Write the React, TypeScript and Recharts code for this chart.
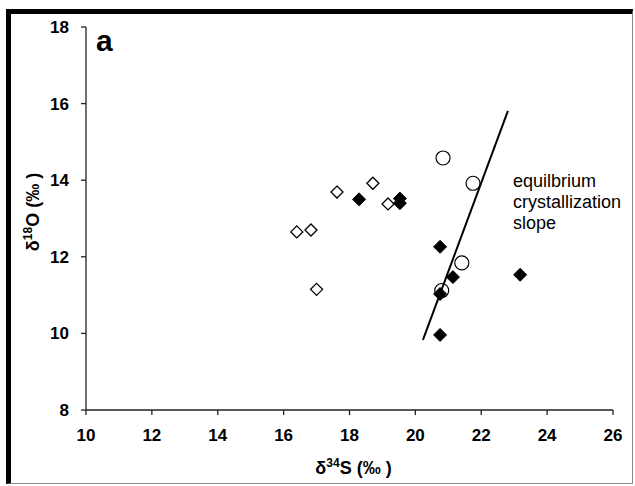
import React from 'react'
import { ScatterChart, Scatter, XAxis, YAxis } from 'recharts'

type Pt = { x: number; y: number }

// δ34S vs δ18O readings
const openDiamonds: Pt[] = [
    { x: 16.4, y: 12.65 },
    { x: 16.83, y: 12.7 },
    { x: 17.0, y: 11.15 },
    { x: 17.62, y: 13.69 },
    { x: 18.71, y: 13.92 },
    { x: 19.17, y: 13.38 }
]

const filledDiamonds: Pt[] = [
    { x: 18.29, y: 13.5 },
    { x: 19.53, y: 13.52 },
    { x: 19.53, y: 13.4 },
    { x: 20.75, y: 12.26 },
    { x: 20.75, y: 11.03 },
    { x: 21.14, y: 11.47 },
    { x: 20.75, y: 9.96 },
    { x: 23.18, y: 11.53 }
]

const openCircles: Pt[] = [
    { x: 20.84, y: 14.58 },
    { x: 21.75, y: 13.92 },
    { x: 21.41, y: 11.84 },
    { x: 20.8, y: 11.12 }
]

const slopeLine: Pt[] = [
    { x: 20.23, y: 9.83 },
    { x: 22.81, y: 15.81 }
]

const xTicks = [10, 12, 14, 16, 18, 20, 22, 24, 26]
const yTicks = [8, 10, 12, 14, 16, 18]

const FONT = '"Liberation Sans", Arial, sans-serif'

const OpenDiamond = (props: any) => {
    const { cx, cy } = props
    const r = 6
    return <path d={`M${cx},${cy - r}L${cx + r},${cy}L${cx},${cy + r}L${cx - r},${cy}Z`} fill="#fff" stroke="#000" strokeWidth={1.3} />
}

const FilledDiamond = (props: any) => {
    const { cx, cy } = props
    const r = 6.5
    return <path d={`M${cx},${cy - r}L${cx + r},${cy}L${cx},${cy + r}L${cx - r},${cy}Z`} fill="#000" stroke="#000" />
}

const OpenCircle = (props: any) => {
    const { cx, cy } = props
    return <circle cx={cx} cy={cy} r={7} fill="none" stroke="#000" strokeWidth={1.2} />
}

const NoDot = () => <g />

const XLabel = (props: any) => {
    const { viewBox } = props
    const cx = viewBox.x + viewBox.width / 2 + 4
    return (
        <text x={cx} y={474} textAnchor="middle" fontFamily={FONT} fontWeight="bold" fontSize={18} fill="#000">
            δ<tspan fontSize={12} dy={-7}>34</tspan><tspan dy={7}>S (‰ )</tspan>
        </text>
    )
}

const YLabel = () => (
    <text x={0} y={0} transform="translate(39,212) rotate(-90)" textAnchor="middle" fontFamily={FONT} fontWeight="bold" fontSize={18} fill="#000">
        δ<tspan fontSize={12} dy={-7}>18</tspan><tspan dy={7}>O (‰ )</tspan>
    </text>
)

export default function App() {
    return (
        <div style={{ position: 'absolute', left: 0, top: 0, width: 635, height: 486, background: '#fff' }}>
            <div style={{ position: 'absolute', left: 6, top: 9, width: 627, height: 475, borderLeft: '5px solid #000', borderTop: '5px solid #000', borderRight: '1px solid #888', borderBottom: '1px solid #888', boxSizing: 'border-box' }} />
            <ScatterChart
                width={635}
                height={486}
                margin={{ top: 27, right: 22, left: 26, bottom: 10 }}
                style={{ position: 'absolute', left: 0, top: 0 }}
            >
                <XAxis
                    type="number"
                    dataKey="x"
                    domain={[10, 26]}
                    ticks={xTicks}
                    height={66}
                    tickSize={5}
                    tickMargin={14}
                    stroke="#222"
                    strokeWidth={1.3}
                    tick={{ fill: '#000', fontSize: 17, fontWeight: 'bold', fontFamily: FONT }}
                    label={<XLabel />}
                />
                <YAxis
                    type="number"
                    dataKey="y"
                    domain={[8, 18]}
                    ticks={yTicks}
                    width={60}
                    tickSize={5}
                    tickMargin={12}
                    stroke="#222"
                    strokeWidth={1.3}
                    tick={{ fill: '#000', fontSize: 17, fontWeight: 'bold', fontFamily: FONT }}
                    label={<YLabel />}
                />
                <Scatter data={slopeLine} line={{ stroke: '#000', strokeWidth: 2 }} shape={<NoDot />} isAnimationActive={false} />
                <Scatter data={openDiamonds} shape={<OpenDiamond />} isAnimationActive={false} />
                <Scatter data={filledDiamonds} shape={<FilledDiamond />} isAnimationActive={false} />
                <Scatter data={openCircles} shape={<OpenCircle />} isAnimationActive={false} />
            </ScatterChart>
            <div style={{ position: 'absolute', left: 96, top: 24, fontFamily: FONT, fontWeight: 'bold', fontSize: 30, lineHeight: '34px' }}>a</div>
            <div style={{ position: 'absolute', left: 513, top: 171, fontFamily: FONT, fontSize: 18, lineHeight: '21px' }}>
                equilbrium<br />crystallization<br />slope
            </div>
        </div>
    )
}
